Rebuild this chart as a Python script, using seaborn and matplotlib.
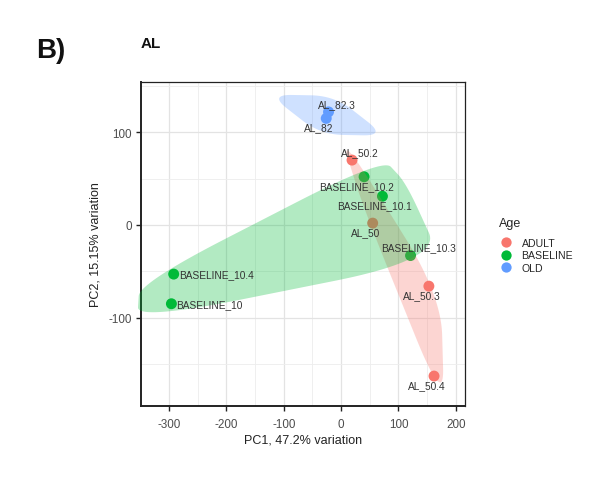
import numpy as np
import pandas as pd
import matplotlib
matplotlib.use("Agg")
import matplotlib.pyplot as plt
from matplotlib.lines import Line2D
import seaborn as sns

# ---------------- data ----------------
samples = ['AL_82.3', 'AL_82', 'AL_50.2', 'BASELINE_10.2', 'BASELINE_10.1', 'AL_50',
           'BASELINE_10.3', 'BASELINE_10.4', 'BASELINE_10', 'AL_50.3', 'AL_50.4']
age = ['OLD', 'OLD', 'ADULT', 'BASELINE', 'BASELINE', 'ADULT',
       'BASELINE', 'BASELINE', 'BASELINE', 'ADULT', 'ADULT']
pc1 = [-22, -26, 19, 40, 72, 55, 121, -292, -296, 153, 162]
pc2 = [122, 115, 70, 52, 31, 2, -33, -53, -85, -66, -163]
groups = ['ADULT', 'BASELINE', 'OLD']
x_ticks = [-300, -200, -100, 0, 100, 200]
y_ticks = [-100, 0, 100]
x_label = 'PC1, 47.2% variation'
y_label = 'PC2, 15.15% variation'
panel_tag = 'B)'
title = 'AL'
legend_title = 'Age'

# ---------------- style ----------------
palette = {'ADULT': '#F8766D', 'BASELINE': '#00BA38', 'OLD': '#619CFF'}
# label placement: 'ur' upper-right, 'll' lower-left, 'r' right
label_pos = ['ur', 'll', 'ur', 'll', 'll', 'll', 'ur', 'r', 'r', 'll', 'll']
xlim = (-349, 216)
ylim = (-195, 154.6)

sns.set_theme(style='white')
plt.rcParams['font.family'] = ['Liberation Sans', 'DejaVu Sans']

df = pd.DataFrame({'sample': samples, 'Age': age, 'PC1': pc1, 'PC2': pc2})

fig = plt.figure(figsize=(5.97, 5.02), dpi=100)
ax = fig.add_axes([0.2362, 0.1898, 0.5427, 0.6455])


def convex_hull(P):
    idx = sorted(range(len(P)), key=lambda i: (P[i][0], P[i][1]))

    def cross(o, a, b):
        return (P[a][0] - P[o][0]) * (P[b][1] - P[o][1]) - (P[a][1] - P[o][1]) * (P[b][0] - P[o][0])
    lower, upper = [], []
    for i in idx:
        while len(lower) >= 2 and cross(lower[-2], lower[-1], i) <= 0:
            lower.pop()
        lower.append(i)
    for i in reversed(idx):
        while len(upper) >= 2 and cross(upper[-2], upper[-1], i) <= 0:
            upper.pop()
        upper.append(i)
    return lower[:-1] + upper[:-1]


def encircle(xs, ys, k=1.22, pad=0.02, spread=0.14, along=0.025, f=0.35, n=30):
    """smoothed, expanded hull in axes-fraction space, returned in data units"""
    X = (np.asarray(xs, float) - xlim[0]) / (xlim[1] - xlim[0])
    Y = (np.asarray(ys, float) - ylim[0]) / (ylim[1] - ylim[0])
    P = np.column_stack([X, Y])
    c = P.mean(axis=0)
    if len(P) == 2:
        d = P[1] - P[0]
        u = d / np.linalg.norm(d)
        perp = np.array([u[1], -u[0]])
        P = np.array([P[0] - u * along, c + perp * spread, P[1] + u * along, c - perp * spread])
    else:
        P = P[convex_hull(P)]
    V = P - c
    r = np.linalg.norm(V, axis=1, keepdims=True)
    Q = c + V * k + V / r * pad
    m = len(Q)
    t = np.linspace(0, 1, n)[:, None]
    out = []
    for i in range(m):
        q, qp, qn = Q[i], Q[i - 1], Q[(i + 1) % m]
        a = q + f * (qp - q)
        b = q + f * (qn - q)
        out.append((1 - t) ** 2 * a + 2 * (1 - t) * t * q + t ** 2 * b)
    S = np.vstack(out)
    sx = xlim[0] + S[:, 0] * (xlim[1] - xlim[0])
    sy = ylim[0] + S[:, 1] * (ylim[1] - ylim[0])
    return sx, sy


# grid
ax.set_xticks(x_ticks)
ax.set_yticks(y_ticks)
ax.set_xticks([v + 50 for v in [-400] + x_ticks], minor=True)
ax.set_yticks([v + 50 for v in [-200] + y_ticks], minor=True)
ax.grid(which='major', color='#E3E3E3', linewidth=0.9, zorder=0)
ax.grid(which='minor', color='#EDEDED', linewidth=0.6, zorder=0)
ax.set_axisbelow(True)

sns.scatterplot(data=df, x='PC1', y='PC2', hue='Age', palette=palette, hue_order=groups,
                s=62, edgecolor='none', linewidth=0, legend=False, ax=ax, zorder=2)

for g in groups:
    sub = df[df['Age'] == g]
    sx, sy = encircle(sub['PC1'].values, sub['PC2'].values)
    ax.fill(sx, sy, color=palette[g], alpha=0.3, linewidth=0, zorder=3, clip_on=False)

for name, x, y, pos in zip(samples, pc1, pc2, label_pos):
    if pos == 'ur':
        off, ha = (8, 8), 'center'
    elif pos == 'll':
        off, ha = (-7.5, -9), 'center'
    else:
        off, ha = (5, 0), 'left'
    ax.annotate(name, (x, y), xytext=off, textcoords='offset pixels', ha=ha, va='center',
                fontsize=7.3, color='#333333', zorder=4)

ax.set_xlim(*xlim)
ax.set_ylim(*ylim)

for s in ax.spines.values():
    s.set_color('#222222')
    s.set_linewidth(0.9)
ax.spines['left'].set_linewidth(1.4)
ax.spines['bottom'].set_linewidth(1.4)
ax.tick_params(axis='both', which='major', length=3.8, width=1.0, color='#222222',
               labelsize=8.4, labelcolor='#4D4D4D', bottom=True, left=True)
ax.tick_params(axis='x', which='major', pad=4.8)
ax.tick_params(axis='y', which='major', pad=3.0)
ax.tick_params(which='minor', length=0)
ax.set_xticklabels([str(v) for v in x_ticks])
ax.set_yticklabels([str(v) for v in y_ticks])
ax.set_xlabel(x_label, fontsize=9, color='#222222', labelpad=2.5)
ax.set_ylabel(y_label, fontsize=9, color='#222222', labelpad=5)

fig.text(36 / 597, 1 - 51 / 502, panel_tag, fontsize=20, fontweight='bold', va='center', ha='left', color='#111111')
fig.text(141 / 597, 1 - 44 / 502, title, fontsize=11, fontweight='bold', va='center', ha='left', color='#111111')

handles = [Line2D([0], [0], marker='o', linestyle='', markersize=7.4,
                  markerfacecolor=palette[g], markeredgecolor='none') for g in groups]
leg = fig.legend(handles, groups, title=legend_title, loc='upper left',
                 bbox_to_anchor=(492 / 597, 1 - 210.5 / 502), frameon=False,
                 fontsize=7.6, title_fontsize=9, handletextpad=0.9, labelspacing=0.22,
                 handlelength=1.2, borderpad=0.2)
leg._legend_box.align = 'left'
leg._legend_box.sep = 6.5

fig.savefig('out.png', dpi=100, facecolor='white')
